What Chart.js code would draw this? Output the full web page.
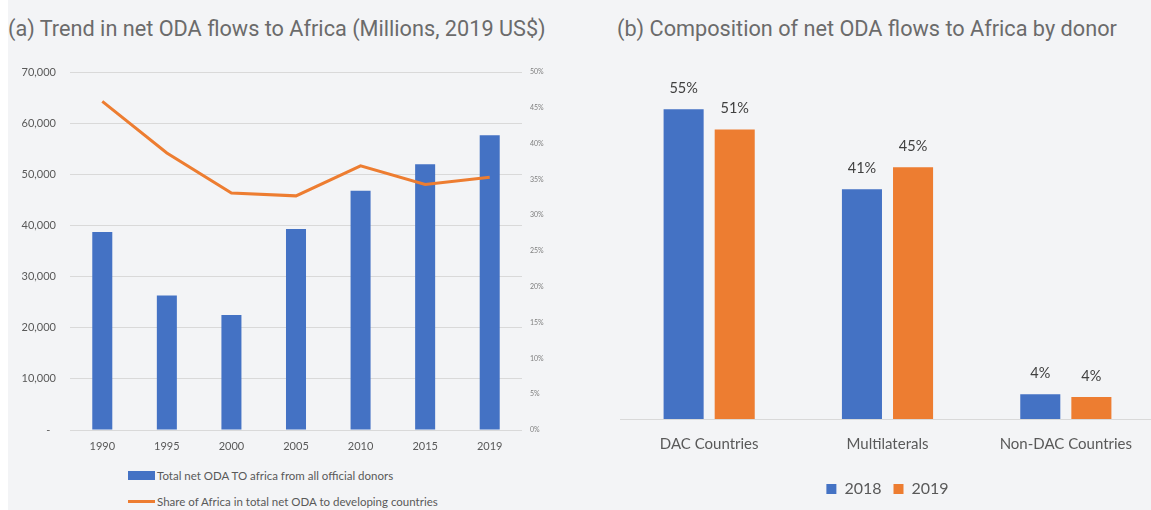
<!DOCTYPE html>
<html>
<head>
<meta charset="utf-8">
<script src="https://cdn.jsdelivr.net/npm/chart.js@4"></script>
<style>
  html, body { margin: 0; padding: 0; }
  body { width: 1151px; height: 510px; overflow: hidden; background: #f3f4f6; position: relative; font-family: Lato, sans-serif; }
  .strip { position: absolute; left: 0; top: 0; width: 8px; height: 510px; background: #fff; }
  .title { position: absolute; top: 16px; font-family: Roboto, sans-serif; font-size: 21.7px; color: #6b6b6b; white-space: nowrap; }
  .box { position: absolute; }
  .leg { position: absolute; left: 128px; font-size: 11.5px; color: #595959; white-space: nowrap; display: flex; align-items: center; }
  .leg i { display: inline-block; width: 27px; margin-right: 2px; }
</style>
</head>
<body>
<div class="strip"></div>
<div class="title" style="left:8px">(a) Trend in net ODA flows to Africa (Millions, 2019 US$)</div>
<div class="title" style="left:617px">(b) Composition of net ODA flows to Africa by donor</div>

<div class="box" style="left:8px;top:55px;width:555px;height:405px"><canvas id="trend"></canvas></div>
<div class="leg" style="top:469px"><i style="height:9px;background:#4472c4"></i>Total net ODA TO africa from all official donors</div>
<div class="leg" style="top:495px"><i style="height:3px;background:#ed7d31"></i>Share of Africa in total net ODA to developing countries</div>

<div class="box" style="left:600px;top:60px;width:555px;height:450px"><canvas id="donor"></canvas></div>

<script>
// panel (a)
const years = ['1990', '1995', '2000', '2005', '2010', '2015', '2019'];
const odaTotal = [38700, 26300, 22500, 39300, 46800, 51950, 57650];   // millions, 2019 US$
const africaShare = [45.9, 38.7, 33.1, 32.7, 36.9, 34.3, 35.3];      // % of total net ODA

// panel (b)
const donors = ['DAC Countries', 'Multilaterals', 'Non-DAC Countries'];
const share2018 = [55.0, 40.8, 4.4];
const share2019 = [51.4, 44.7, 3.9];

const BLUE = '#4472c4';
const ORANGE = '#ed7d31';
const GRID = '#d9d9d9';
const TXT = '#595959';

// keep the plot box where the layout padding puts it
const noPad = s => { s.paddingTop = 0; s.paddingBottom = 0; };

new Chart(document.getElementById('trend'), {
    data: {
        labels: years,
        datasets: [
            {
                type: 'line',
                label: 'Share of Africa in total net ODA to developing countries',
                data: africaShare,
                yAxisID: 'y1',
                borderColor: ORANGE,
                borderWidth: 3,
                pointRadius: 0,
                tension: 0,
                order: 0
            },
            {
                type: 'bar',
                label: 'Total net ODA TO africa from all official donors',
                data: odaTotal,
                yAxisID: 'y',
                backgroundColor: BLUE,
                categoryPercentage: 1,
                barPercentage: 0.31,
                order: 1
            }
        ]
    },
    options: {
        responsive: true,
        maintainAspectRatio: false,
        animation: false,
        layout: { padding: { top: 17 } },
        plugins: { legend: { display: false }, tooltip: { enabled: false } },
        scales: {
            x: {
                grid: { display: false, drawTicks: false },
                border: { display: false },
                ticks: { font: { family: 'Lato', size: 11 }, color: TXT, padding: 10, maxRotation: 0 },
                afterFit: s => { s.height = 30; }
            },
            y: {
                position: 'left',
                min: 0, max: 70000,
                grid: { color: GRID, drawTicks: false },
                border: { display: false },
                ticks: {
                    stepSize: 10000,
                    padding: 14,
                    font: { family: 'Lato', size: 11 },
                    color: TXT,
                    callback: v => v === 0 ? '-  ' : v.toLocaleString('en-US')
                },
                afterFit: s => { s.width = 62; noPad(s); }
            },
            y1: {
                position: 'right',
                min: 0, max: 50,
                grid: { display: false, drawTicks: false },
                border: { display: false },
                ticks: {
                    stepSize: 5,
                    padding: 8,
                    font: { family: 'Lato', size: 7 },
                    color: '#7f7f7f',
                    callback: v => v + '%'
                },
                afterFit: s => { s.width = 41; noPad(s); }
            }
        }
    }
});

// value labels over the bars in panel (b)
const barLabels = {
    id: 'barLabels',
    afterDatasetsDraw(chart) {
        const ctx = chart.ctx;
        ctx.save();
        ctx.font = '14.5px Lato';
        ctx.fillStyle = '#404040';
        ctx.textAlign = 'center';
        ctx.textBaseline = 'middle';
        chart.data.datasets.forEach((ds, i) => {
            chart.getDatasetMeta(i).data.forEach((bar, j) => {
                ctx.fillText(Math.round(ds.data[j]) + '%', bar.x, bar.y - 21);
            });
        });
        ctx.restore();
    }
};

new Chart(document.getElementById('donor'), {
    type: 'bar',
    data: {
        labels: donors,
        datasets: [
            { label: '2018', data: share2018, backgroundColor: BLUE },
            { label: '2019', data: share2019, backgroundColor: ORANGE }
        ]
    },
    options: {
        responsive: true,
        maintainAspectRatio: false,
        animation: false,
        categoryPercentage: 0.573,
        barPercentage: 0.784,
        layout: { padding: { top: 21, left: 20, right: 0, bottom: 3 } },
        plugins: {
            tooltip: { enabled: false },
            legend: {
                position: 'bottom',
                labels: {
                    boxWidth: 10, boxHeight: 10, padding: 12,
                    font: { family: 'Lato', size: 16 }, color: TXT
                }
            }
        },
        scales: {
            x: {
                grid: { display: false, drawTicks: false },
                border: { display: true, color: GRID, width: 1 },
                ticks: { font: { family: 'Lato', size: 15 }, color: TXT, padding: 16 }
            },
            y: { display: false, min: 0, max: 60 }
        }
    },
    plugins: [barLabels]
});
</script>
</body>
</html>
